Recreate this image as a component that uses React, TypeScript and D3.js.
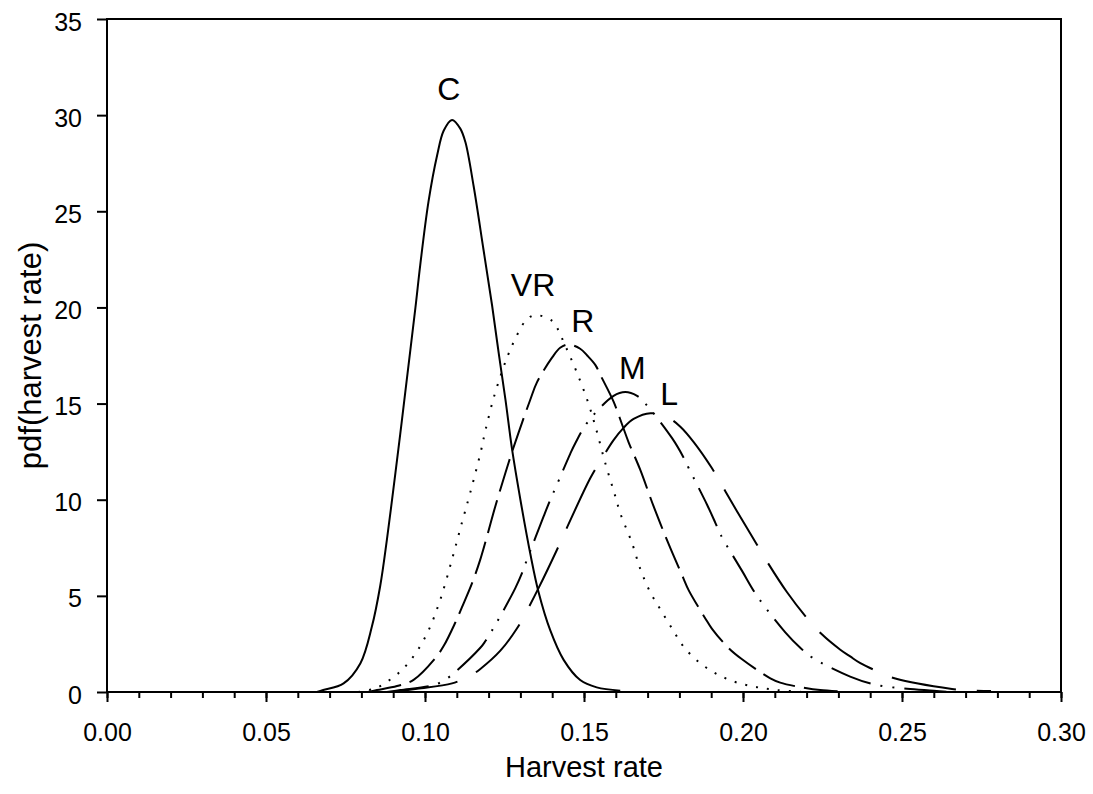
import React, { useEffect, useRef } from "react";
import * as d3 from "d3";

// harvest rate (x) and pdf (y), one pair per point
const curveC: [number, number][] = [
  [0.066, 0], [0.068, 0.1], [0.0744, 0.45], [0.0797, 1.5], [0.0833, 3.4],
  [0.0859, 5.5], [0.088, 7.9], [0.0907, 11.4], [0.0922, 13.4], [0.0938, 15.6],
  [0.097, 20.0], [0.0985, 22.2], [0.1011, 25.5], [0.1038, 27.9], [0.1059, 29.2],
  [0.1085, 29.75], [0.1111, 29.3], [0.1127, 28.6], [0.1153, 26.3], [0.1184, 23.0],
  [0.1211, 20.1], [0.1232, 17.6], [0.1253, 15.2], [0.1274, 12.6], [0.13, 10.0],
  [0.1331, 7.2], [0.1357, 5.2], [0.1394, 3.2], [0.1436, 1.67], [0.1488, 0.62],
  [0.154, 0.24], [0.1614, 0.07],
];

const curveVR: [number, number][] = [
  [0.079, 0], [0.0833, 0.14], [0.0859, 0.31], [0.0922, 1.06], [0.097, 2.0],
  [0.1011, 3.2], [0.1048, 4.8], [0.1085, 6.9], [0.1116, 8.8], [0.1142, 10.35],
  [0.1174, 12.4], [0.119, 13.6], [0.1216, 15.3], [0.1247, 16.9], [0.1263, 17.6],
  [0.1279, 18.2], [0.1316, 19.3], [0.1345, 19.6], [0.14, 19.3], [0.142, 18.8],
  [0.1436, 18.2], [0.1473, 16.8], [0.151, 15.2], [0.1536, 13.8], [0.1567, 11.9],
  [0.1598, 10.2], [0.1614, 9.3], [0.1651, 7.75], [0.1677, 6.4], [0.1708, 5.2],
  [0.174, 4.3], [0.1777, 3.3], [0.1813, 2.36], [0.1866, 1.49], [0.1923, 0.89],
  [0.1981, 0.49], [0.2044, 0.25], [0.2107, 0.1], [0.218, 0.02],
];

const curveR: [number, number][] = [
  [0.082, 0], [0.0849, 0.1], [0.0912, 0.31], [0.0964, 0.63], [0.1032, 1.75],
  [0.1059, 2.4], [0.1095, 3.6], [0.1116, 4.4], [0.1148, 5.66], [0.1174, 6.9],
  [0.1195, 8.1], [0.1221, 9.65], [0.1253, 11.4], [0.1274, 12.5], [0.1305, 14.0],
  [0.1331, 15.2], [0.1352, 16.1], [0.14, 17.4], [0.1425, 17.9], [0.1452, 18.07],
  [0.1488, 17.85], [0.151, 17.5], [0.1536, 17.0], [0.1551, 16.5], [0.1593, 15.1],
  [0.162, 13.9], [0.164, 13.0], [0.1677, 11.55], [0.1719, 9.65], [0.1766, 7.7],
  [0.1813, 5.9], [0.1829, 5.3], [0.1881, 3.84], [0.1902, 3.3], [0.1955, 2.28],
  [0.1997, 1.7], [0.2086, 0.71], [0.2117, 0.49], [0.2201, 0.19], [0.2243, 0.1],
  [0.23, 0.03],
];

const curveM: [number, number][] = [
  [0.088, 0], [0.0922, 0.1], [0.1027, 0.36], [0.1069, 0.7], [0.1174, 2.3],
  [0.119, 2.65], [0.1216, 3.35], [0.1237, 3.95], [0.1284, 5.4], [0.1305, 6.18],
  [0.1321, 6.9], [0.1373, 9.13], [0.1394, 10.0], [0.141, 10.6], [0.1457, 12.4],
  [0.1473, 12.95], [0.151, 14.0], [0.1593, 15.4], [0.163, 15.6], [0.1667, 15.4],
  [0.1693, 15.0], [0.1777, 13.2], [0.1813, 12.2], [0.1829, 11.65], [0.1887, 9.74],
  [0.1913, 8.8], [0.1929, 8.2], [0.1997, 6.3], [0.2044, 5.0], [0.2133, 3.1],
  [0.218, 2.3], [0.2217, 1.8], [0.2337, 0.8], [0.2421, 0.36], [0.2516, 0.17],
  [0.26, 0.07], [0.265, 0],
];

const curveL: [number, number][] = [
  [0.09, 0], [0.0975, 0.17], [0.1085, 0.45], [0.1143, 0.85], [0.1174, 1.2],
  [0.1237, 2.15], [0.1289, 3.3], [0.1326, 4.4], [0.1357, 5.4], [0.1415, 7.4],
  [0.1441, 8.35], [0.152, 11.13], [0.1562, 12.3], [0.1593, 13.1], [0.1625, 13.75],
  [0.1656, 14.2], [0.1709, 14.5], [0.1766, 14.25], [0.1803, 13.8], [0.1845, 13.0],
  [0.1902, 11.65], [0.1939, 10.6], [0.1981, 9.4], [0.2044, 7.66], [0.2075, 6.8],
  [0.2138, 5.2], [0.2196, 3.95], [0.2248, 3.0], [0.2306, 2.2], [0.2337, 1.85],
  [0.2369, 1.5], [0.2426, 1.05], [0.2479, 0.7], [0.2657, 0.16], [0.2709, 0.08],
  [0.278, 0.05],
];

const xMajorTicks = [0, 0.05, 0.1, 0.15, 0.2, 0.25, 0.3];
const xMinorTicks = d3.range(0, 31).map((i) => i / 100);
const yTicks = [0, 5, 10, 15, 20, 25, 30, 35];

const FONT = "'Liberation Sans', Arial, Helvetica, sans-serif";

export default function App() {
  const ref = useRef<SVGSVGElement>(null);

  useEffect(() => {
    const svg = d3.select(ref.current);
    svg.selectAll("*").remove();

    const x = d3.scaleLinear().domain([0, 0.3]).range([107, 1061]);
    const y = d3.scaleLinear().domain([0, 35]).range([692, 19]);

    // minor x ticks
    svg
      .append("g")
      .attr("transform", "translate(0,692)")
      .call(d3.axisBottom(x).tickValues(xMinorTicks).tickSize(6).tickFormat(() => ""))
      .call((g) => g.select(".domain").remove())
      .call((g) => g.selectAll("line").attr("stroke", "#000").attr("stroke-width", 2));

    // major x ticks
    svg
      .append("g")
      .attr("transform", "translate(0,692)")
      .call(
        d3.axisBottom(x).tickValues(xMajorTicks).tickSize(10).tickPadding(21)
          .tickFormat((d) => d3.format(".2f")(d as number))
      )
      .call((g) => g.select(".domain").remove())
      .call((g) => g.selectAll("line").attr("stroke", "#000").attr("stroke-width", 2))
      .call((g) =>
        g.selectAll("text").attr("font-family", FONT).attr("font-size", 25).attr("fill", "#000")
      );

    svg
      .append("g")
      .attr("transform", "translate(107,0)")
      .call(d3.axisLeft(y).tickValues(yTicks).tickSize(10).tickPadding(15))
      .call((g) => g.select(".domain").remove())
      .call((g) => g.selectAll("line").attr("stroke", "#000").attr("stroke-width", 2))
      .call((g) =>
        g.selectAll("text")
          .attr("font-family", FONT)
          .attr("font-size", 25)
          .attr("fill", "#000")
          .attr("dy", "0.44em")
      );

    // frame
    svg
      .append("rect")
      .attr("x", x(0))
      .attr("y", y(35))
      .attr("width", x(0.3) - x(0))
      .attr("height", y(0) - y(35))
      .attr("fill", "none")
      .attr("stroke", "#000")
      .attr("stroke-width", 2);

    const line = d3
      .line<[number, number]>()
      .x((d) => x(d[0]))
      .y((d) => Math.min(y(0), y(d[1])))
      .curve(d3.curveCatmullRom.alpha(0.5));

    const series = [
      { data: curveC, dash: null },
      { data: curveVR, dash: "2 9" },
      { data: curveR, dash: "34 9" },
      { data: curveM, dash: "42 10 2 10 2 10" },
      { data: curveL, dash: "65 21" },
    ];

    series.forEach((s) => {
      const p = svg
        .append("path")
        .attr("d", line(s.data))
        .attr("fill", "none")
        .attr("stroke", "#000")
        .attr("stroke-width", 2);
      if (s.dash) p.attr("stroke-dasharray", s.dash);
    });

    // curve labels
    const labels = [
      { text: "C", x: 0.1075, y: 30.8, anchor: "middle" },
      { text: "VR", x: 0.127, y: 20.6, anchor: "start" },
      { text: "R", x: 0.146, y: 18.7, anchor: "start" },
      { text: "M", x: 0.161, y: 16.3, anchor: "start" },
      { text: "L", x: 0.174, y: 14.9, anchor: "start" },
    ];
    svg
      .selectAll(".lbl")
      .data(labels)
      .enter()
      .append("text")
      .attr("x", (d) => x(d.x))
      .attr("y", (d) => y(d.y))
      .attr("text-anchor", (d) => d.anchor)
      .attr("font-family", FONT)
      .attr("font-size", 32)
      .text((d) => d.text);

    svg
      .append("text")
      .attr("x", (x(0) + x(0.3)) / 2)
      .attr("y", 777)
      .attr("text-anchor", "middle")
      .attr("font-family", FONT)
      .attr("font-size", 29)
      .text("Harvest rate");

    svg
      .append("text")
      .attr("transform", `translate(41,${(y(0) + y(35)) / 2}) rotate(-90)`)
      .attr("text-anchor", "middle")
      .attr("font-family", FONT)
      .attr("font-size", 31)
      .text("pdf(harvest rate)");
  }, []);

  return (
    <svg
      ref={ref}
      width={1093}
      height={794}
      style={{ position: "absolute", left: 0, top: 0, background: "#fff" }}
    />
  );
}
